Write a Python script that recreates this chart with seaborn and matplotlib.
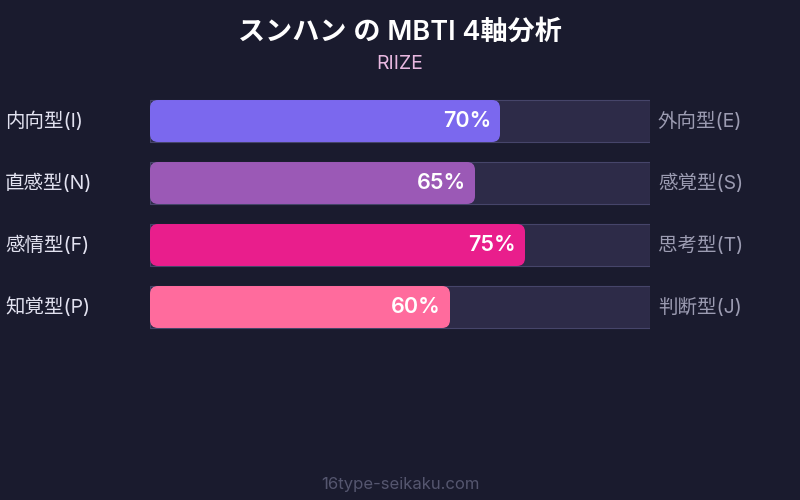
import matplotlib
matplotlib.use('Agg')
import matplotlib.pyplot as plt
from matplotlib.patches import FancyBboxPatch
import pandas as pd
import seaborn as sns

# data
left_labels = ['内向型(I)', '直感型(N)', '感情型(F)', '知覚型(P)']
right_labels = ['外向型(E)', '感覚型(S)', '思考型(T)', '判断型(J)']
values = [70, 65, 75, 60]
bar_colors = ['#7b68ee', '#9b59b6', '#e91e8c', '#ff6b9d']
track_total = [100, 100, 100, 100]

df = pd.DataFrame({'axis': left_labels, 'value': values, 'total': track_total})

BG = '#1a1b2e'
sns.set_style('dark')
plt.rcParams['font.family'] = ['Inter', 'Noto Sans CJK JP', 'DejaVu Sans']

fig = plt.figure(figsize=(8, 5), dpi=100, facecolor=BG)
ax = fig.add_axes([0.1875, 0.324, 0.625, 0.496])
ax.set_facecolor(BG)

# background tracks
sns.barplot(data=df, x='total', y='axis', orient='h', color='#2d2b48',
            saturation=1, edgecolor='#46456a', linewidth=0.8, width=0.677, ax=ax)
n_track = len(ax.patches)

# value bars
sns.barplot(data=df, x='value', y='axis', orient='h', hue='axis',
            palette=bar_colors, saturation=1, legend=False, width=0.677,
            linewidth=0, ax=ax)

ax.set_xlim(0, 100)
ax.set_ylim(len(values) - 0.5, -0.5)

# rounded corners on the value bars
px_x = fig.get_figwidth() * fig.dpi * 0.625 / 100
px_y = fig.get_figheight() * fig.dpi * 0.496 / len(values)
aspect = px_x / px_y
for p in list(ax.patches[n_track:]):
    x0, y0 = p.get_x(), p.get_y()
    w, h = p.get_width(), p.get_height()
    fc = p.get_facecolor()
    p.remove()
    ax.add_patch(FancyBboxPatch((x0, y0), w, h,
                                boxstyle='round,pad=0,rounding_size=1.6',
                                mutation_aspect=aspect, facecolor=fc,
                                edgecolor='none', zorder=3))
    ax.text(x0 + w - 1.8, y0 + h / 2, f'{w:.0f}%', ha='right', va='center',
            color='white', fontsize=15.5, fontweight='semibold', zorder=4)

for i, (l, r) in enumerate(zip(left_labels, right_labels)):
    ax.text(-29, i, l, ha='left', va='center', color='#e2e2f0', fontsize=14,
            clip_on=False)
    ax.text(101.6, i, r, ha='left', va='center', color='#9c9cb2', fontsize=14,
            clip_on=False)

ax.set_xlabel('')
ax.set_ylabel('')
ax.set_xticks([])
ax.set_yticks([])
for s in ax.spines.values():
    s.set_visible(False)
ax.grid(False)

fig.text(0.5, 0.934, 'スンハン の MBTI 4軸分析', ha='center', va='center',
         color='white', fontsize=19.5, fontweight='semibold')
fig.text(0.5, 0.872, 'RIIZE', ha='center', va='center', color='#e8b8e0',
         fontsize=14)
fig.text(0.5, 0.032, '16type-seikaku.com', ha='center', va='center',
         color='#55566f', fontsize=12)

fig.savefig('out.png', dpi=100, facecolor=BG)
